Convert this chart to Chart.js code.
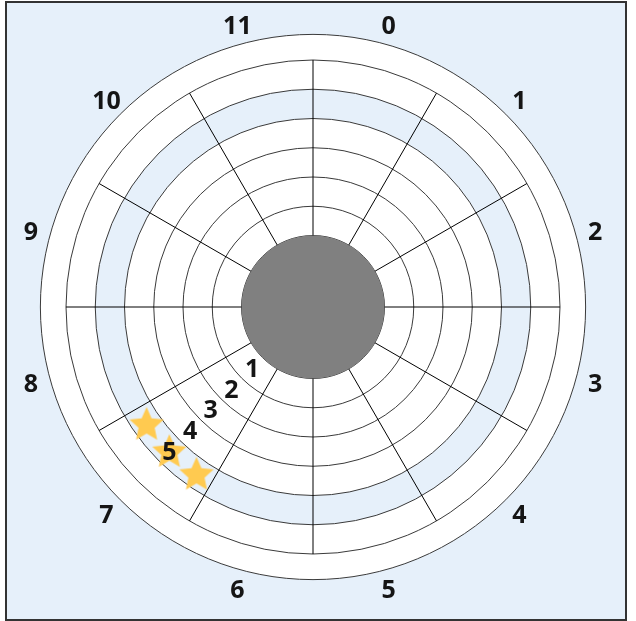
<!DOCTYPE html>
<html><head><meta charset="utf-8">
<script src="https://cdn.jsdelivr.net/npm/chart.js@4.4.0/dist/chart.umd.min.js"></script>
<style>
html,body{margin:0;padding:0;background:#fff;width:636px;height:621px;overflow:hidden}
#frame{position:absolute;left:5px;top:1px;width:618px;height:616px;border:2px solid #333;background:#E6F0FA}
#c{position:absolute;left:0;top:0}
</style></head><body>
<div id="frame"></div>
<canvas id="c" width="636" height="621"></canvas>
<script>
// angle axis categories (clockwise from top)
const hourLabels = ['0','1','2','3','4','5','6','7','8','9','10','11'];
// radius axis categories (inside to outside)
const ringLabels = ['1','2','3','4','5'];
// radial grid circles
const ringTicks = [0,1,2,3,4,5,6];
// star points: angle category, sub-position inside the category, radius category
const starHour = [7, 7, 7];
const starShift = [-1, 0, 1];
const starRing = ['5', '5', '5'];

const SUB = 6;                 // sub-steps per angle category
const rMin = -2.444, rMax = 6; // radial value range (hole in the middle)
const outerRingValue = 6.876;
const hourLabelValue = 7.54;
const highlightBand = [4, 5];

const labels = [];
for (let i = 0; i < hourLabels.length * SUB; i++) {
  labels.push(i % SUB === SUB / 2 ? hourLabels[(i - SUB / 2) / SUB] : '');
}
const starData = labels.map(() => null);
starHour.forEach((h, k) => {
  starData[h * SUB + SUB / 2 + starShift[k] * 2] = ringLabels.indexOf(starRing[k]) + 0.5;
});

// filled 5-point star image
function makeStar(R, color) {
  const c = document.createElement('canvas');
  const s = Math.ceil(R * 2 + 4);
  c.width = s; c.height = s;
  const g = c.getContext('2d');
  g.translate(s / 2, s / 2 + R * 0.09);
  g.beginPath();
  const inner = R * 0.47;
  for (let i = 0; i < 10; i++) {
    const r = i % 2 ? inner : R;
    const a = -Math.PI / 2 + i * Math.PI / 5;
    if (i === 0) g.moveTo(r * Math.cos(a), r * Math.sin(a));
    else g.lineTo(r * Math.cos(a), r * Math.sin(a));
  }
  g.closePath();
  g.fillStyle = color;
  g.fill();
  return c;
}
const starImg = makeStar(18, '#FFCA50');

const FONT = 'bold 25px "Open Sans", "Noto Sans", sans-serif';
function centerText(ctx, txt, x, y) {
  const m = ctx.measureText(txt);
  ctx.fillText(txt, x, y + (m.actualBoundingBoxAscent - m.actualBoundingBoxDescent) / 2);
}

const decor = {
  id: 'decor',
  beforeDraw(chart) {
    const s = chart.scales.r, ctx = chart.ctx;
    ctx.save();
    ctx.fillStyle = '#ffffff';
    ctx.beginPath();
    ctx.arc(s.xCenter, s.yCenter, s.getDistanceFromCenterForValue(outerRingValue), 0, Math.PI * 2);
    ctx.fill();
    ctx.fillStyle = '#E6F0FA';
    ctx.beginPath();
    ctx.arc(s.xCenter, s.yCenter, s.getDistanceFromCenterForValue(highlightBand[1]), 0, Math.PI * 2);
    ctx.arc(s.xCenter, s.yCenter, s.getDistanceFromCenterForValue(highlightBand[0]), 0, Math.PI * 2, true);
    ctx.fill();
    ctx.restore();
  },
  beforeDatasetsDraw(chart) {
    const s = chart.scales.r, ctx = chart.ctx;
    ctx.save();
    ctx.strokeStyle = '#3a3a3a';
    ctx.lineWidth = 1;
    ctx.beginPath();
    ctx.arc(s.xCenter, s.yCenter, s.getDistanceFromCenterForValue(outerRingValue), 0, Math.PI * 2);
    ctx.stroke();
    ctx.fillStyle = '#808080';
    ctx.beginPath();
    ctx.arc(s.xCenter, s.yCenter, s.getDistanceFromCenterForValue(0), 0, Math.PI * 2);
    ctx.fill();
    ctx.restore();
  },
  afterDatasetsDraw(chart) {
    const s = chart.scales.r, ctx = chart.ctx;
    ctx.save();
    ctx.font = FONT;
    ctx.fillStyle = '#151515';
    ctx.textAlign = 'center';
    ctx.textBaseline = 'alphabetic';
    hourLabels.forEach((t, m) => {
      const p = s.getPointPositionForValue(m * SUB + SUB / 2, hourLabelValue);
      centerText(ctx, t, p.x, p.y);
    });
    const radialIndex = 7 * SUB + SUB / 2;
    ringLabels.forEach((t, i) => {
      const p = s.getPointPositionForValue(radialIndex, i + 0.5);
      centerText(ctx, t, p.x, p.y);
    });
    ctx.restore();
  }
};

new Chart(document.getElementById('c'), {
  type: 'radar',
  data: {
    labels: labels,
    datasets: [{
      data: starData,
      showLine: false,
      fill: false,
      borderWidth: 0,
      pointStyle: starImg,
      pointRadius: 18,
      spanGaps: false
    }]
  },
  options: {
    responsive: false,
    animation: false,
    layout: { padding: { left: 66, right: 75, top: 60, bottom: 66 } },
    plugins: { legend: { display: false }, tooltip: { enabled: false } },
    scales: {
      r: {
        min: rMin,
        max: rMax,
        afterBuildTicks: sc => { sc.ticks = ringTicks.map(v => ({ value: v })); },
        ticks: { display: false },
        grid: { circular: true, color: '#3a3a3a', lineWidth: 1 },
        angleLines: {
          display: true,
          color: '#000000',
          lineWidth: c => (c.index % SUB === 0 ? 1 : 0)
        },
        pointLabels: { display: false }
      }
    }
  },
  plugins: [decor]
});
</script>
</body></html>
